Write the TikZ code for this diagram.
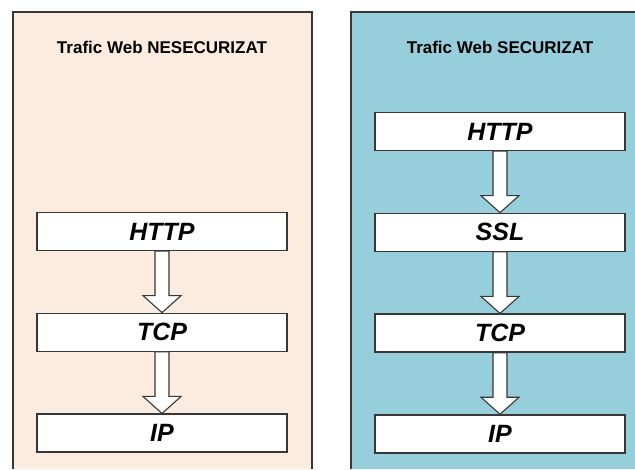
\documentclass[tikz,border=0pt]{standalone}
\usepackage{fontspec}
\setmainfont{Liberation Sans}
\usetikzlibrary{positioning,calc}

\definecolor{peach}{RGB}{252,235,223}
\definecolor{skyblue}{RGB}{150,206,220}
\definecolor{edgegray}{RGB}{55,55,55}

\begin{document}
\begin{tikzpicture}
 [x=1pt, y=1pt, node distance=61.5pt,
  layer node/.style={rectangle, draw=edgegray, line width=1.3pt, fill=white, minimum width=250pt, minimum height=38pt, inner sep=0pt, font=\fontsize{25}{28}\selectfont\bfseries\itshape},
  title node/.style={font=\fontsize{17}{20}\selectfont\bfseries},
  panel/.style={draw=edgegray, line width=1.4pt},
  flow/.style={draw=edgegray, line width=1.1pt, fill=white,
    to path={let \p1=(\tikztostart), \p2=(\tikztotarget) in
      (\x1-7pt,\y1) -- (\x1+7pt,\y1) -- (\x1+7pt,\y2+17pt) -- (\x1+19pt,\y2+17pt)
      -- (\x1,\y2) -- (\x1-19pt,\y2+17pt) -- (\x1-7pt,\y2+17pt) -- cycle}}]

\useasboundingbox (0,0) rectangle (635,469);

% the two panels
\fill[peach] (13,0) rectangle (312,457);
\draw[panel] (13,0) -- (13,457) -- (312,457) -- (312,0);
\fill[skyblue] (351,0) rectangle (635,457);
\draw[panel] (351,0) -- (351,457) -- (635,457);

% unsecured stack
\node[title node] (nesec) at (162,422) {Trafic Web NESECURIZAT};
\node[layer node] (http1) at (162,237.5) {HTTP};
\node[layer node] (tcp1) [below=of http1] {TCP};
\node[layer node] (ip1) [below=of tcp1] {IP};

% secured stack
\node[title node] (sec) at (500,422) {Trafic Web SECURIZAT};
\node[layer node] (http2) at (500,337.5) {HTTP};
\node[layer node] (ssl2) [below=of http2] {SSL};
\node[layer node] (tcp2) [below=of ssl2] {TCP};
\node[layer node] (ip2) [below=of tcp2] {IP};

\path
  (http1.south) edge [flow] (tcp1.north)
  (tcp1.south) edge [flow] (ip1.north)
  (http2.south) edge [flow] (ssl2.north)
  (ssl2.south) edge [flow] (tcp2.north)
  (tcp2.south) edge [flow] (ip2.north);

\end{tikzpicture}
\end{document}
